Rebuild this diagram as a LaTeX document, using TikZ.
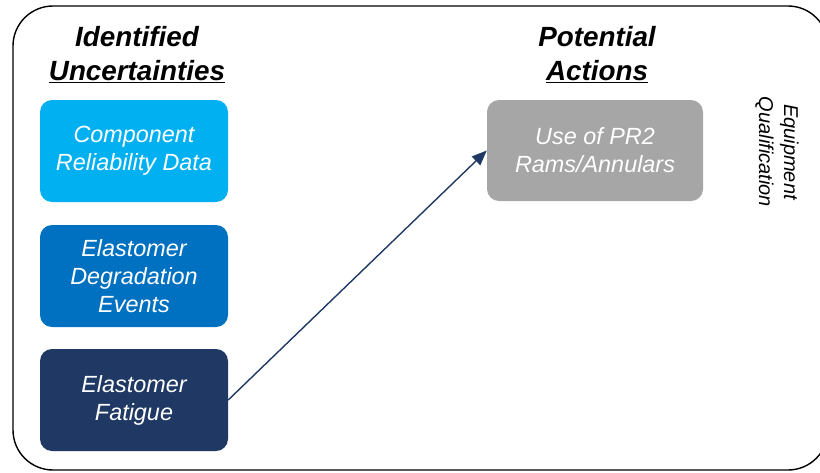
\documentclass[tikz,border=0pt]{standalone}
\usepackage{fontspec}
\setmainfont{Liberation Sans}
\usetikzlibrary{arrows.meta}
\definecolor{lblue}{HTML}{00B0F0}
\definecolor{mblue}{HTML}{0070C0}
\definecolor{navy}{HTML}{1F3864}
\definecolor{gbox}{HTML}{A6A6A6}
\begin{document}
\begin{tikzpicture}[x=1pt,y=-1pt,
  card/.style={rounded corners=12pt, minimum width=188pt, minimum height=102pt, text=white, align=center, inner sep=0pt, font=\fontsize{23.4}{28}\selectfont\itshape},
  hdr/.style={align=center, inner sep=0pt, font=\fontsize{27.8}{34}\selectfont\bfseries\itshape}]
\useasboundingbox (0,0) rectangle (820,472);
\clip (0,0) rectangle (820,472);
\draw[line width=1.4pt, rounded corners=40pt] (13,6) rectangle (828,470);
\node[hdr] (h1) at (137,55) {Identified\\\underline{Uncertainties}};
\node[hdr] (h2) at (597,55) {Potential\\\underline{Actions}};
\node[card, fill=lblue] (b1) at (134,151) {Component\\Reliability Data};
\node[card, fill=mblue] (b2) at (134,276) {Elastomer\\Degradation\\Events};
\node[card, fill=navy] (b3) at (134,400) {Elastomer\\Fatigue};
\node[card, fill=gbox, minimum width=216pt, minimum height=101pt] (g) at (595,150.5) {Use of PR2\\Rams/Annulars};
\node[rotate=-90, align=center, inner sep=0pt, font=\fontsize{20}{25}\selectfont\itshape] (eq) at (777,152) {Equipment\\Qualification};
\draw[navy, line width=1.4pt, -{Triangle[length=15pt,width=12pt]}] (b3.east) -- (g.west);
\end{tikzpicture}
\end{document}
